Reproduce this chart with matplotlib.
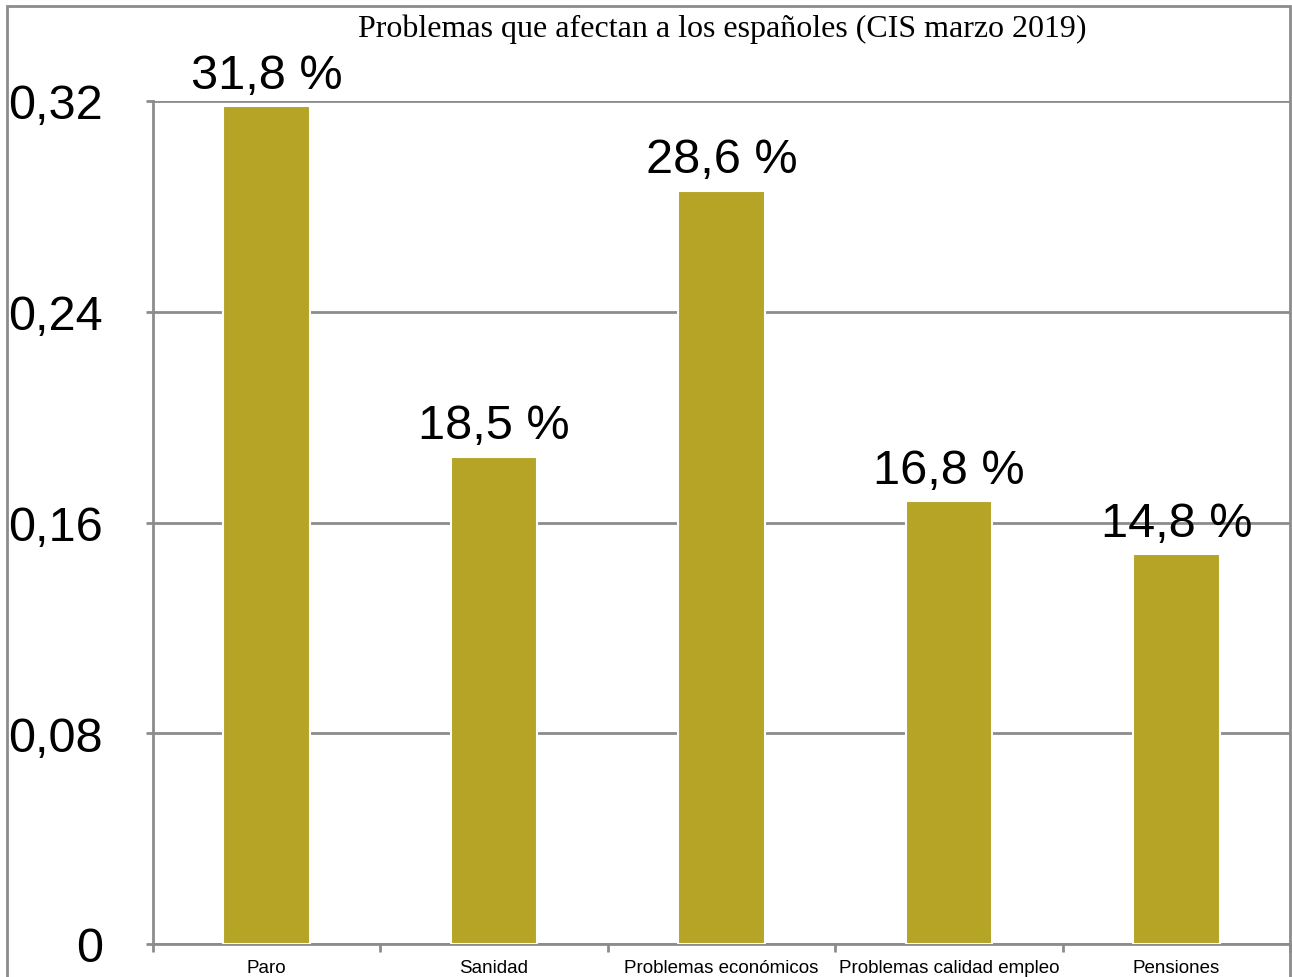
import matplotlib
matplotlib.use('Agg')
import matplotlib.pyplot as plt
from matplotlib.patches import Rectangle

categorias = ['Paro', 'Sanidad', 'Problemas económicos', 'Problemas calidad empleo', 'Pensiones']
valores = [0.318, 0.185, 0.286, 0.168, 0.148]
etiquetas = ['31,8 %', '18,5 %', '28,6 %', '16,8 %', '14,8 %']
yticks = [0, 0.08, 0.16, 0.24, 0.32]
ytick_labels = ['0', '0,08', '0,16', '0,24', '0,32']

gris = '#8c8c8c'
color_barra = '#b5a426'

fig = plt.figure(figsize=(12.92, 9.78), dpi=100)
ax = fig.add_axes([153/1292, 1 - 945/978, (1290 - 153)/1292, (945 - 102)/978])

x = list(range(len(categorias)))
ax.bar(x, valores, width=0.38, color=color_barra, edgecolor='white', linewidth=1.5, zorder=3)
ax.set_xlim(-0.5, len(categorias) - 0.5)
ax.set_ylim(0, 0.32)

for xi, v, t in zip(x, valores, etiquetas):
    ax.annotate(t, (xi, v), xytext=(0, 6), textcoords='offset points',
                ha='center', va='bottom', fontsize=35, family='Liberation Sans',
                zorder=4, clip_on=False)

ax.set_yticks(yticks)
ax.set_yticklabels(ytick_labels, fontsize=35, family='Liberation Sans')
ax.tick_params(axis='y', length=5, width=2, color=gris, pad=31)
ax.yaxis.grid(True, color=gris, linewidth=2, zorder=0)
ax.set_axisbelow(True)

ax.set_xticks(x)
ax.set_xticklabels(categorias, fontsize=13.5, family='Liberation Sans')
ax.set_xticks([i - 0.5 for i in range(len(categorias) + 1)], minor=True)
ax.tick_params(axis='x', which='major', length=0, pad=11)
ax.tick_params(axis='x', which='minor', length=6, width=2, color=gris, direction='out')

for s in ['top', 'right']:
    ax.spines[s].set_visible(False)
for s in ['left', 'bottom']:
    ax.spines[s].set_color(gris)
    ax.spines[s].set_linewidth(2)

fig.text(722/1292, 1 - 29/978, 'Problemas que afectan a los españoles (CIS marzo 2019)',
         ha='center', va='center', fontsize=23, family='Liberation Serif')

# marco de la figura
fig.patches.append(Rectangle((7/1292, -0.1), (1290 - 7)/1292, 1.1 - 7/978,
                             transform=fig.transFigure, fill=False,
                             edgecolor=gris, linewidth=2))

fig.savefig('out.png', dpi=100)
